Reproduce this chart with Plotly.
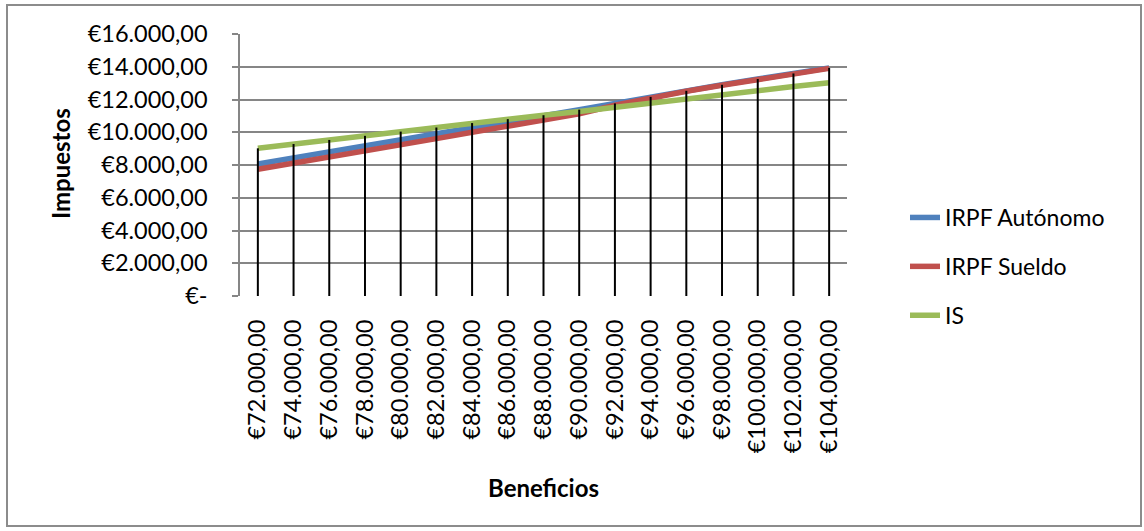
import plotly.graph_objects as go

# Beneficios (categorías del eje X)
beneficios = [
    "€72.000,00", "€74.000,00", "€76.000,00", "€78.000,00", "€80.000,00",
    "€82.000,00", "€84.000,00", "€86.000,00", "€88.000,00", "€90.000,00",
    "€92.000,00", "€94.000,00", "€96.000,00", "€98.000,00", "€100.000,00",
    "€102.000,00", "€104.000,00",
]

# Impuestos por escenario
irpf_autonomo = [8060, 8420, 8790, 9150, 9530, 9900, 10270, 10640, 11000,
                 11380, 11760, 12160, 12530, 12900, 13250, 13590, 13930]
irpf_sueldo = [7740, 8100, 8460, 8830, 9220, 9610, 10000, 10360, 10720,
               11120, 11650, 12110, 12500, 12870, 13220, 13560, 13900]
impuesto_sociedades = [9020, 9280, 9530, 9780, 10040, 10290, 10560, 10800, 11040,
                       11270, 11530, 11830, 12080, 12330, 12560, 12790, 13020]

# Eje Y
y_tick_values = [0, 2000, 4000, 6000, 8000, 10000, 12000, 14000, 16000]
y_tick_labels = ["€-", "€2.000,00", "€4.000,00", "€6.000,00", "€8.000,00",
                 "€10.000,00", "€12.000,00", "€14.000,00", "€16.000,00"]

series = [
    ("IRPF Autónomo", irpf_autonomo, "#4F81BD"),
    ("IRPF Sueldo", irpf_sueldo, "#C0504D"),
    ("IS", impuesto_sociedades, "#9BBB59"),
]

W, H = 1144, 531
ML, MR, MT, MB = 240, 297, 34, 235
PW, PH = W - ML - MR, H - MT - MB


def px_x(px):
    return (px - ML) / PW


def px_y(py):
    return (H - MB - py) / PH


FONT = "Lato, 'Open Sans', sans-serif"
GRID = "#868686"
TICK_SIZE = 23.5

fig = go.Figure()

for name, values, color in series:
    fig.add_trace(go.Scatter(
        x=beneficios, y=values, name=name, mode="lines",
        line=dict(color=color, width=5.5),
        legendgroup=name,
    ))

# Líneas de unión: desde el valor más alto de cada categoría hasta el eje
drop_x, drop_y = [], []
for i, cat in enumerate(beneficios):
    top = max(irpf_autonomo[i], irpf_sueldo[i], impuesto_sociedades[i])
    drop_x += [cat, cat, None]
    drop_y += [0, top, None]
fig.add_trace(go.Scatter(
    x=drop_x, y=drop_y, mode="lines", showlegend=False, hoverinfo="skip",
    line=dict(color="#000000", width=2),
))

fig.update_layout(
    width=W, height=H,
    margin=dict(l=ML, r=MR, t=MT, b=MB),
    paper_bgcolor="white", plot_bgcolor="white",
    font=dict(family=FONT, size=TICK_SIZE, color="#000000"),
    showlegend=True,
    legend=dict(
        x=px_x(905), y=px_y(196), xanchor="left", yanchor="top",
        font=dict(size=23, family=FONT, color="#000000"),
        traceorder="grouped", tracegroupgap=16,
        itemwidth=30, bgcolor="rgba(0,0,0,0)",
    ),
    xaxis=dict(
        type="category", categoryorder="array", categoryarray=beneficios,
        range=[-0.5, len(beneficios) - 0.5],
        tickangle=-90, showgrid=False, zeroline=False,
        showline=False, ticks="", ticklabelstandoff=18,
        tickfont=dict(size=TICK_SIZE, family=FONT, color="#000000"),
    ),
    yaxis=dict(
        range=[0, 16000], tickvals=y_tick_values, ticktext=y_tick_labels,
        showgrid=True, gridcolor=GRID, gridwidth=1.5,
        zeroline=False, showline=True, linecolor=GRID, linewidth=1.5,
        ticks="outside", ticklen=6, tickcolor=GRID, tickwidth=1.5,
        ticklabelstandoff=20,
        tickfont=dict(size=TICK_SIZE, family=FONT, color="#000000"),
    ),
    annotations=[
        dict(text="<b>Impuestos</b>", xref="paper", yref="paper",
             x=px_x(60), y=px_y(164), xanchor="center", yanchor="middle",
             showarrow=False, textangle=-90,
             font=dict(size=24, family=FONT, color="#000000")),
        dict(text="<b>Beneficios</b>", xref="paper", yref="paper",
             x=px_x(543), y=px_y(487), xanchor="center", yanchor="middle",
             showarrow=False,
             font=dict(size=24, family=FONT, color="#000000")),
    ],
    shapes=[
        dict(type="rect", xref="paper", yref="paper", layer="below",
             x0=px_x(7), x1=px_x(1141), y0=px_y(526), y1=px_y(5),
             line=dict(color="#8C8C8C", width=2)),
    ],
)

fig.write_html("out.html")
